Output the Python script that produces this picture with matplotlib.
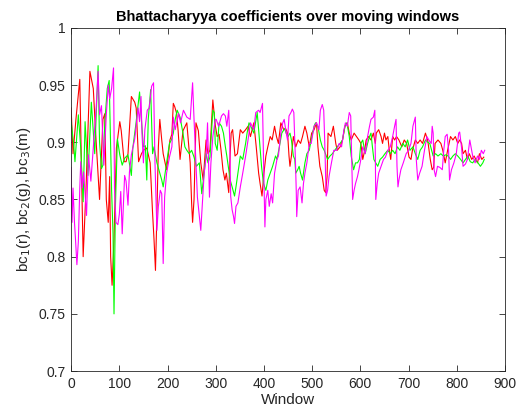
import numpy as np
import matplotlib
matplotlib.use('Agg')
import matplotlib.pyplot as plt

plt.rcParams['font.family'] = ['Liberation Sans', 'DejaVu Sans']

# ─── bc1 (red) ───
R_W = [0, 4, 10, 18, 25, 31, 39, 46, 52, 59, 66, 70, 73, 77, 80, 82, 85, 89, 94, 101,
       104, 110, 114, 118, 125, 132, 135, 140, 146, 150, 157, 164, 169, 172, 175, 178, 181, 184, 188, 191,
       198, 202, 205, 209, 212, 215, 219, 222, 226, 232, 240, 247, 250, 252, 255, 259, 264, 269, 274, 280,
       284, 288, 294, 299, 303, 307, 311, 315, 319, 322, 327, 330, 332, 335, 340, 345, 351, 356, 362, 367,
       372, 379, 384, 389, 392, 396, 400, 404, 408, 413, 417, 422, 426, 430, 435, 441, 445, 449, 452, 454,
       457, 461, 466, 471, 476, 480, 485, 489, 494, 499, 504, 509, 512, 516, 521, 525, 528, 531, 533, 539,
       544, 549, 552, 558, 563, 568, 573, 577, 581, 587, 592, 597, 601, 605, 609, 612, 617, 622, 627, 631,
       633, 638, 643, 646, 650, 653, 657, 660, 663, 667, 671, 675, 680, 686, 691, 696, 701, 705, 708, 714,
       719, 724, 729, 735, 740, 745, 749, 752, 755, 761, 767, 771, 776, 781, 787, 792, 797, 802, 806, 810,
       813, 818, 822, 826, 831, 836, 843, 847, 852, 856]
R_V = [0.930, 0.890, 0.920, 0.955, 0.800, 0.860, 0.962, 0.947, 0.900, 0.850, 0.920, 0.925, 0.850, 0.830, 0.870, 0.800, 0.775, 0.815, 0.895, 0.918,
       0.910, 0.883, 0.883, 0.890, 0.940, 0.935, 0.930, 0.883, 0.890, 0.893, 0.895, 0.882, 0.838, 0.815, 0.788, 0.838, 0.896, 0.920, 0.902, 0.890,
       0.876, 0.890, 0.902, 0.907, 0.934, 0.931, 0.925, 0.910, 0.885, 0.910, 0.917, 0.882, 0.847, 0.830, 0.850, 0.917, 0.910, 0.882, 0.867, 0.902,
       0.890, 0.893, 0.937, 0.915, 0.905, 0.907, 0.893, 0.876, 0.867, 0.873, 0.856, 0.890, 0.908, 0.911, 0.888, 0.890, 0.911, 0.908, 0.911, 0.914,
       0.905, 0.917, 0.896, 0.873, 0.864, 0.853, 0.873, 0.888, 0.896, 0.905, 0.902, 0.914, 0.905, 0.899, 0.917, 0.911, 0.912, 0.908, 0.888, 0.879,
       0.888, 0.905, 0.896, 0.902, 0.899, 0.905, 0.914, 0.908, 0.896, 0.908, 0.911, 0.917, 0.896, 0.879, 0.870, 0.858, 0.856, 0.870, 0.908, 0.905,
       0.914, 0.899, 0.893, 0.896, 0.902, 0.914, 0.917, 0.908, 0.902, 0.908, 0.905, 0.902, 0.899, 0.885, 0.893, 0.902, 0.905, 0.902, 0.908, 0.899,
       0.908, 0.911, 0.905, 0.899, 0.908, 0.902, 0.905, 0.893, 0.885, 0.905, 0.902, 0.905, 0.902, 0.896, 0.902, 0.899, 0.887, 0.885, 0.893, 0.902,
       0.899, 0.902, 0.899, 0.908, 0.901, 0.885, 0.876, 0.878, 0.899, 0.902, 0.899, 0.893, 0.882, 0.893, 0.905, 0.902, 0.905, 0.899, 0.902, 0.899,
       0.890, 0.893, 0.885, 0.890, 0.885, 0.888, 0.882, 0.890, 0.885, 0.887]

# ─── bc2 (green) ───
G_W = [0, 5, 8, 15, 20, 25, 29, 35, 42, 49, 56, 59, 63, 66, 70, 75, 79, 84, 87, 89,
       92, 96, 101, 106, 111, 118, 125, 128, 135, 142, 145, 150, 154, 157, 160, 165, 169, 172, 178, 184,
       188, 191, 196, 204, 208, 212, 216, 220, 226, 232, 236, 240, 245, 250, 255, 260, 266, 271, 276, 280,
       284, 288, 294, 297, 299, 303, 307, 312, 316, 320, 323, 330, 334, 339, 342, 348, 351, 356, 362, 365,
       369, 376, 379, 386, 389, 395, 399, 404, 408, 413, 418, 424, 427, 432, 437, 443, 446, 450, 454, 457,
       461, 464, 466, 470, 473, 476, 480, 485, 489, 494, 498, 504, 507, 512, 517, 521, 525, 532, 537, 542,
       547, 552, 558, 563, 568, 572, 577, 581, 586, 590, 594, 598, 601, 605, 610, 615, 619, 622, 625, 628,
       632, 636, 641, 646, 651, 657, 662, 667, 672, 677, 682, 688, 693, 698, 703, 709, 714, 719, 724, 729,
       735, 740, 744, 751, 756, 761, 767, 772, 777, 782, 787, 792, 797, 802, 808, 813, 818, 823, 828, 833,
       838, 844, 849, 854, 857]
G_V = [0.918, 0.900, 0.883, 0.924, 0.895, 0.848, 0.918, 0.871, 0.935, 0.890, 0.967, 0.900, 0.877, 0.880, 0.918, 0.947, 0.954, 0.858, 0.820, 0.750,
       0.845, 0.903, 0.889, 0.880, 0.886, 0.889, 0.871, 0.895, 0.918, 0.944, 0.925, 0.896, 0.897, 0.867, 0.920, 0.946, 0.890, 0.896, 0.882, 0.873,
       0.867, 0.861, 0.876, 0.899, 0.902, 0.908, 0.920, 0.928, 0.922, 0.908, 0.896, 0.893, 0.890, 0.893, 0.887, 0.879, 0.882, 0.855, 0.873, 0.890,
       0.882, 0.887, 0.928, 0.926, 0.899, 0.893, 0.917, 0.914, 0.908, 0.896, 0.888, 0.867, 0.861, 0.853, 0.861, 0.879, 0.888, 0.885, 0.899, 0.908,
       0.917, 0.911, 0.908, 0.926, 0.911, 0.879, 0.864, 0.858, 0.867, 0.873, 0.879, 0.888, 0.885, 0.896, 0.908, 0.912, 0.908, 0.905, 0.908, 0.902,
       0.888, 0.885, 0.873, 0.876, 0.879, 0.873, 0.867, 0.882, 0.890, 0.893, 0.902, 0.914, 0.917, 0.914, 0.902, 0.896, 0.893, 0.885, 0.888, 0.890,
       0.893, 0.896, 0.899, 0.902, 0.914, 0.917, 0.905, 0.888, 0.876, 0.882, 0.882, 0.885, 0.899, 0.902, 0.890, 0.899, 0.905, 0.908, 0.896, 0.885,
       0.882, 0.879, 0.885, 0.887, 0.890, 0.893, 0.890, 0.893, 0.890, 0.896, 0.893, 0.899, 0.896, 0.902, 0.893, 0.896, 0.890, 0.885, 0.893, 0.896,
       0.902, 0.900, 0.899, 0.888, 0.890, 0.888, 0.890, 0.888, 0.889, 0.888, 0.885, 0.888, 0.890, 0.888, 0.885, 0.882, 0.885, 0.888, 0.883, 0.882,
       0.885, 0.882, 0.879, 0.882, 0.885]

# ─── bc3 (magenta) ───
M_W = [0, 2, 4, 7, 9, 12, 15, 18, 20, 23, 26, 32, 36, 41, 46, 52, 56, 59, 63, 68,
       73, 77, 80, 84, 88, 90, 93, 97, 100, 103, 106, 111, 114, 118, 121, 125, 132, 139, 142, 145,
       147, 150, 153, 158, 162, 167, 171, 174, 178, 181, 185, 188, 191, 194, 198, 204, 209, 212, 216, 223,
       227, 233, 240, 247, 252, 255, 259, 262, 266, 269, 272, 276, 280, 283, 287, 290, 294, 299, 301, 306,
       312, 316, 320, 323, 327, 329, 331, 334, 337, 339, 342, 346, 351, 356, 362, 367, 372, 379, 383, 389,
       392, 397, 399, 402, 404, 408, 411, 415, 418, 422, 427, 430, 435, 439, 442, 445, 449, 452, 456, 459,
       462, 465, 467, 468, 471, 475, 479, 482, 485, 489, 494, 498, 504, 509, 514, 517, 521, 524, 526, 529,
       532, 535, 540, 545, 551, 556, 561, 566, 569, 573, 577, 580, 582, 584, 587, 590, 594, 597, 601, 605,
       610, 615, 619, 622, 627, 630, 632, 635, 638, 643, 648, 652, 657, 662, 667, 671, 674, 676, 678, 680,
       684, 689, 695, 700, 705, 709, 714, 716, 719, 723, 728, 733, 738, 742, 747, 749, 751, 753, 756, 760,
       765, 770, 773, 776, 780, 783, 785, 789, 794, 799, 804, 806, 810, 813, 818, 822, 827, 830, 833, 838,
       843, 847, 851, 855, 858]
M_V = [0.878, 0.830, 0.860, 0.830, 0.816, 0.793, 0.813, 0.860, 0.883, 0.860, 0.874, 0.836, 0.889, 0.866, 0.895, 0.930, 0.962, 0.924, 0.932, 0.880,
       0.924, 0.950, 0.938, 0.947, 0.965, 0.860, 0.830, 0.828, 0.837, 0.857, 0.820, 0.871, 0.866, 0.845, 0.874, 0.889, 0.903, 0.930, 0.918, 0.940,
       0.908, 0.882, 0.911, 0.928, 0.930, 0.949, 0.952, 0.882, 0.823, 0.844, 0.858, 0.855, 0.794, 0.852, 0.873, 0.887, 0.896, 0.922, 0.911, 0.925,
       0.917, 0.928, 0.922, 0.920, 0.952, 0.920, 0.882, 0.852, 0.835, 0.823, 0.844, 0.873, 0.887, 0.917, 0.852, 0.882, 0.905, 0.920, 0.920, 0.914,
       0.923, 0.925, 0.923, 0.914, 0.928, 0.902, 0.853, 0.841, 0.835, 0.829, 0.844, 0.847, 0.861, 0.873, 0.888, 0.902, 0.917, 0.911, 0.926, 0.928,
       0.926, 0.934, 0.888, 0.826, 0.850, 0.858, 0.844, 0.855, 0.847, 0.873, 0.885, 0.888, 0.908, 0.917, 0.920, 0.911, 0.902, 0.923, 0.926, 0.929,
       0.926, 0.888, 0.858, 0.835, 0.858, 0.861, 0.847, 0.864, 0.873, 0.882, 0.899, 0.899, 0.914, 0.917, 0.911, 0.928, 0.933, 0.928, 0.902, 0.853,
       0.858, 0.870, 0.882, 0.893, 0.893, 0.899, 0.896, 0.911, 0.917, 0.914, 0.926, 0.923, 0.888, 0.850, 0.858, 0.864, 0.870, 0.876, 0.885, 0.896,
       0.890, 0.905, 0.914, 0.920, 0.922, 0.928, 0.850, 0.864, 0.873, 0.879, 0.885, 0.887, 0.893, 0.896, 0.905, 0.914, 0.920, 0.879, 0.861, 0.867,
       0.876, 0.882, 0.890, 0.893, 0.899, 0.914, 0.922, 0.885, 0.867, 0.873, 0.879, 0.893, 0.905, 0.902, 0.899, 0.914, 0.908, 0.876, 0.870, 0.879,
       0.878, 0.876, 0.893, 0.905, 0.907, 0.893, 0.867, 0.876, 0.882, 0.890, 0.908, 0.909, 0.895, 0.879, 0.881, 0.885, 0.902, 0.895, 0.888, 0.882,
       0.888, 0.885, 0.893, 0.890, 0.893]

AX_C = '#262626'

fig = plt.figure(figsize=(5.19, 4.16), dpi=100)
ax = fig.add_axes([0.137, 0.108, 0.836, 0.825])

ax.plot(R_W, R_V, color='#ff0000', lw=0.8)
ax.plot(G_W, G_V, color='#00ff00', lw=0.8)
ax.plot(M_W, M_V, color='#ff00ff', lw=0.8)

ax.set_xlim(0, 900)
ax.set_ylim(0.7, 1.0)
ax.set_xticks(np.arange(0, 901, 100))
ax.set_yticks([0.7, 0.75, 0.8, 0.85, 0.9, 0.95, 1.0])
ax.set_yticklabels(['0.7', '0.75', '0.8', '0.85', '0.9', '0.95', '1'])
ax.tick_params(direction='in', top=True, right=True, length=4, width=0.6,
               colors=AX_C, labelsize=10, pad=4)
for s in ax.spines.values():
    s.set_color(AX_C); s.set_linewidth(0.6)

ax.set_title('Bhattacharyya coefficients over moving windows', fontsize=10.5,
             fontweight='bold', color='black', pad=5)
ax.set_xlabel('Window', fontsize=11, color=AX_C, labelpad=2)
ax.set_ylabel(r'bc$_1$(r), bc$_2$(g), bc$_3$(m)', fontsize=11, color=AX_C, labelpad=4)

plt.savefig('out.png', dpi=100)
